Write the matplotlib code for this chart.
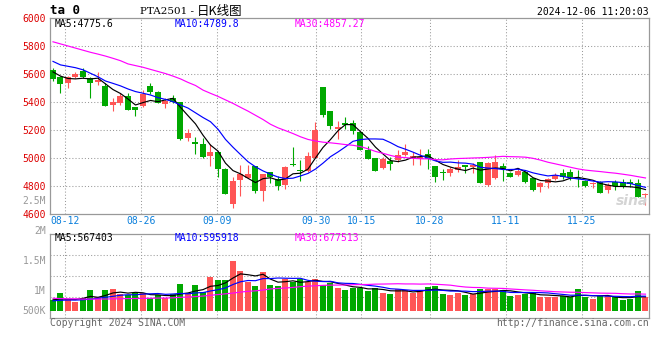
import matplotlib
matplotlib.use('Agg')
import matplotlib.pyplot as plt
import numpy as np

# daily candles PTA2501, 2024-08-08 .. 2024-12-06
opens = [5628, 5581, 5538, 5578, 5621, 5574, 5540, 5516, 5376, 5390,
         5442, 5364, 5371, 5514, 5471, 5388, 5426, 5397, 5140, 5114,
         5100, 5014, 5043, 4919, 4671, 4843, 4857, 4943, 4767, 4900,
         4850, 4809, 4957, 4914, 4909, 5002, 5509, 5336, 5209, 5252,
         5248, 5188, 5057, 4998, 4931, 4981, 4986, 5021, 4998, 4990,
         5029, 4943, 4902, 4895, 4914, 4950, 4933, 4969, 4807, 4855,
         4943, 4895, 4881, 4902, 4855, 4795, 4819, 4848, 4895, 4902,
         4855, 4838, 4814, 4831, 4771, 4831, 4831, 4831, 4824, 4733]
highs = [5645, 5583, 5583, 5612, 5640, 5578, 5614, 5533, 5431, 5461,
         5461, 5366, 5485, 5533, 5481, 5426, 5450, 5402, 5207, 5147,
         5140, 5097, 5043, 4926, 4867, 4947, 4947, 4943, 4886, 4900,
         4869, 4943, 5078, 4988, 5045, 5255, 5509, 5336, 5262, 5293,
         5271, 5190, 5086, 5000, 5004, 5004, 5057, 5100, 5045, 5062,
         5062, 4945, 4921, 4933, 4985, 4950, 4962, 4974, 4974, 5021,
         4962, 4902, 4919, 4909, 4855, 4831, 4855, 4890, 4919, 4919,
         4914, 4843, 4831, 4838, 4819, 4843, 4848, 4848, 4848, 4747]
lows = [5550, 5466, 5502, 5570, 5573, 5431, 5524, 5371, 5336, 5378,
        5340, 5302, 5366, 5454, 5390, 5357, 5390, 5128, 5123, 5028,
        5002, 4943, 4867, 4745, 4640, 4726, 4855, 4748, 4695, 4819,
        4774, 4781, 4943, 4838, 4900, 4998, 5295, 5207, 5136, 5209,
        5171, 5055, 4990, 4905, 4922, 4914, 4974, 5014, 4950, 4950,
        4919, 4831, 4843, 4874, 4902, 4890, 4890, 4824, 4800, 4848,
        4838, 4862, 4871, 4824, 4767, 4755, 4788, 4843, 4848, 4843,
        4795, 4790, 4783, 4748, 4748, 4771, 4783, 4795, 4724, 4664]
closes = [5564, 5528, 5576, 5600, 5581, 5538, 5557, 5371, 5397, 5440,
          5342, 5343, 5457, 5473, 5395, 5409, 5397, 5135, 5176, 5102,
          5005, 5043, 4921, 4745, 4836, 4888, 4886, 4767, 4886, 4867,
          4802, 4933, 4948, 4907, 5014, 5200, 5307, 5231, 5221, 5236,
          5195, 5057, 4993, 4907, 4993, 4957, 5022, 5045, 5014, 5010,
          4990, 4862, 4891, 4922, 4938, 4938, 4950, 4819, 4962, 4974,
          4919, 4867, 4909, 4831, 4771, 4819, 4848, 4878, 4867, 4867,
          4848, 4800, 4824, 4752, 4807, 4800, 4800, 4812, 4724, 4736]
volumes = [440000, 740000, 470000, 370000, 520000, 840000, 550000, 840000, 880000, 680000,
           640000, 710000, 740000, 510000, 640000, 510000, 680000, 1080000, 710000, 1040000,
           780000, 1350000, 1240000, 1240000, 2010000, 1610000, 1180000, 1000000, 1570000, 1040000,
           1000000, 1270000, 1180000, 1270000, 1180000, 1270000, 1040000, 1110000, 940000, 840000,
           940000, 910000, 810000, 940000, 720000, 680000, 880000, 840000, 710000, 840000,
           970000, 1020000, 680000, 650000, 740000, 650000, 680000, 870000, 870000, 870000,
           840000, 600000, 650000, 680000, 740000, 580000, 550000, 550000, 600000, 550000,
           880000, 550000, 490000, 600000, 600000, 550000, 440000, 500000, 800000, 550000]

# moving averages before a full window exists (history lies left of the chart)
ma5_head = [5615, 5585, 5568, 5565]
ma10_head = [5690, 5665, 5655, 5645, 5630, 5605, 5580, 5550, 5533]
ma30_head = [5830, 5815, 5800, 5785, 5770, 5755, 5742, 5728, 5712, 5695,
             5672, 5660, 5648, 5633, 5618, 5603, 5585, 5565, 5540, 5518,
             5485, 5462, 5440, 5415, 5390, 5362, 5335, 5305, 5275]
vma5_head = [450000, 480000, 470000, 460000]
vma10_head = [410000, 430000, 440000, 440000, 450000, 480000, 510000, 550000, 590000]
vma30_head = [510000, 500000, 490000, 490000, 480000, 480000, 480000, 480000, 490000, 490000,
              500000, 500000, 510000, 510000, 520000, 520000, 530000, 550000, 560000, 580000,
              600000, 630000, 660000, 690000, 720000, 760000, 790000, 810000, 840000]

tick_idx = [2, 12, 22, 35, 41, 50, 60, 70]
tick_labels = ['08-12', '08-26', '09-09', '09-30', '10-15', '10-28', '11-11', '11-25']
price_ticks = [4600, 4800, 5000, 5200, 5400, 5600, 5800, 6000]

RED = '#ff5555'
GREEN = '#00a800'
GRID = '#9a9a9a'
MONO = 'DejaVu Sans Mono'

W, H = 660, 360


def rect(l, t, r, b):
    return [l / W, 1 - b / H, (r - l) / W, (b - t) / H]


def ftext(xp, yp, s, **kw):
    kw.setdefault('family', MONO)
    kw.setdefault('fontsize', 7)
    kw.setdefault('va', 'center')
    fig.text(xp / W, 1 - yp / H, s, **kw)


def moving_avg(vals, n, head):
    out = list(head)
    for i in range(len(head), len(vals)):
        out.append(np.mean(vals[i - n + 1:i + 1]))
    return out


o = np.array(opens, float)
c = np.array(closes, float)
x = np.arange(len(c))
col = [RED if cc >= oo else GREEN for oo, cc in zip(o, c)]
# sina's date grid drifts slightly against the candles
tick_pos = [i + (i - 35) * 0.0125 + 0.06 for i in tick_idx]
dots = dict(color=GRID, linestyle=(0, (1, 2)), linewidth=0.75, zorder=1)

fig = plt.figure(figsize=(6.6, 3.6), dpi=100)
ax = fig.add_axes(rect(50, 18, 649, 214))
axv = fig.add_axes(rect(50, 234, 649, 318))

for a in (ax, axv):
    a.set_xlim(-0.4, 79.47)
    a.set_xticks(tick_pos)
    for s in a.spines.values():
        s.set_color('#999999')
        s.set_linewidth(0.9)
    for t in tick_pos:
        a.axvline(t, **dots)
    a.tick_params(length=0)

# price panel
ax.vlines(x, lows, highs, colors=col, linewidth=0.8, zorder=2)
ax.bar(x, np.maximum(np.abs(c - o), 7), bottom=np.minimum(o, c), width=0.8,
       color=col, linewidth=0, zorder=3)
ax.plot(x, moving_avg(c, 5, ma5_head), color='black', lw=0.85, zorder=4)
ax.plot(x, moving_avg(c, 10, ma10_head), color='#0000ff', lw=0.85, zorder=4)
ax.plot(x, moving_avg(c, 30, ma30_head), color='#ff00ff', lw=0.85, zorder=4)
ax.set_ylim(4600, 6000)
for p in price_ticks[1:-1]:
    ax.axhline(p, **dots)
ax.set_yticks(price_ticks)
ax.set_yticklabels([str(t) for t in price_ticks], family=MONO, fontsize=7, color='#dd0000')
ax.tick_params(axis='y', pad=3)
ax.set_xticklabels(tick_labels, family=MONO, fontsize=7, color='#0a7fdc')
ax.tick_params(axis='x', pad=1.5)

# volume panel
v = np.array(volumes, float)
vmin, vmax = -0.28e6, 3.09e6
axv.bar(x, v, width=0.8, color=col, linewidth=0, zorder=3)
axv.plot(x, moving_avg(v, 5, vma5_head), color='black', lw=0.85, zorder=4)
axv.plot(x, moving_avg(v, 10, vma10_head), color='#0000ff', lw=0.85, zorder=4)
axv.plot(x, moving_avg(v, 30, vma30_head), color='#ff00ff', lw=0.85, zorder=4)
axv.set_ylim(vmin, vmax)
for f in (0.25, 0.5, 0.75):
    axv.axhline(vmin + f * (vmax - vmin), **dots)
axv.set_yticks([])
axv.set_xticklabels([])

# texts
ftext(50, 11, 'ta 0', fontsize=9, weight='bold')
ftext(140, 11, 'PTA2501 -', family='DejaVu Serif', fontsize=7.5)
ftext(197, 11, '日K线图', family=['Noto Sans CJK SC', 'DejaVu Sans'], fontsize=9)
ftext(649, 12, '2024-12-06 11:20:03', ha='right')

ftext(55, 24, 'MA5:4775.6', color='black')
ftext(175, 24, 'MA10:4789.8', color='#0000ff')
ftext(295, 24, 'MA30:4857.27', color='#ff00ff')
ftext(46, 200.7, '2.5M', ha='right', color='#999999')

ftext(55, 238, 'MA5:567403', color='black')
ftext(175, 238, 'MA10:595918', color='#0000ff')
ftext(295, 238, 'MA30:677513', color='#ff00ff')
for yp, s in [(231, '2M'), (261, '1.5M'), (291, '1M'), (311, '500K')]:
    ftext(46, yp, s, ha='right', color='#999999')

ftext(50, 323, 'Copyright 2024 SINA.COM', color='#666666')
ftext(649, 323, 'http://finance.sina.com.cn', ha='right', color='#666666')
ftext(648, 201, 'sina', ha='right', family='DejaVu Sans', fontsize=10,
      style='italic', weight='bold', color='#d4d4d4')

fig.savefig('out.png', dpi=100)
